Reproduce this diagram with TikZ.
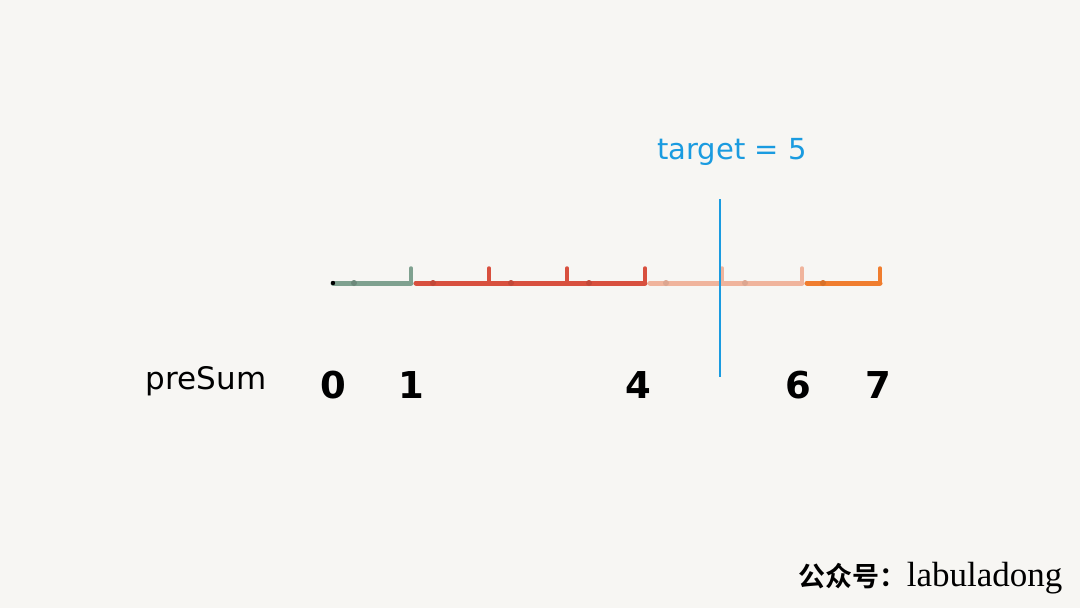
\documentclass[tikz,border=0pt]{standalone}
\usepackage{fontspec}
\newfontfamily\hand{DejaVu Sans}
\newfontfamily\handb{DejaVu Sans Bold}
\newfontfamily\cjk{Noto Sans CJK SC Bold}
\newfontfamily\wmserif{Liberation Serif}
\definecolor{bg}{HTML}{F7F6F3}
\definecolor{cgreen}{HTML}{7FA18F}
\definecolor{cred}{HTML}{D8503E}
\definecolor{csalmon}{HTML}{F0B49C}
\definecolor{corange}{HTML}{F07D2E}
\definecolor{cblue}{HTML}{1A9BE0}
\tikzset{
  seg/.style={line width=5pt, line cap=round},
  tickmark/.style={line width=3.5pt, line cap=round},
  bump/.style={circle, inner sep=0pt, minimum size=6pt},
  digit/.style={font=\handb\fontsize{37}{40}\selectfont, text=black, anchor=center},
}
\begin{document}
\begin{tikzpicture}[x=1pt,y=-1pt]
\fill[bg] (0,0) rectangle (1080,608);
\useasboundingbox (0,0) rectangle (1080,608);
% coordinates along the line
\coordinate (p0) at (333,283);
\coordinate (p1) at (411,283);
\coordinate (p2) at (489,283);
\coordinate (p3) at (567,283);
\coordinate (p4) at (645,283);
\coordinate (p5) at (722,283);
\coordinate (p6) at (802,283);
\coordinate (p7) at (880,283);
% segments
\draw[seg, cgreen] (p0) -- (p1);
\draw[seg, cred] ([xshift=5pt]p1) -- (p4);
\draw[seg, csalmon] ([xshift=5pt]p4) -- (p6);
\draw[seg, corange] ([xshift=5pt]p6) -- (p7);
% start dot
\fill[black] (p0) circle (2.2pt);
% ticks
\draw[tickmark, cgreen] (p1) -- ++(0,-15);
\draw[tickmark, cred] (p2) -- ++(0,-15);
\draw[tickmark, cred] (p3) -- ++(0,-15);
\draw[tickmark, cred] (p4) -- ++(0,-15);
\draw[tickmark, csalmon] (p5) -- ++(0,-15);
\draw[tickmark, csalmon] (p6) -- ++(0,-15);
\draw[tickmark, corange] (p7) -- ++(0,-15);
% bumps
\node[bump, fill=cgreen!85!black] at (354,283) {};
\node[bump, fill=cred!90!black] at (433,283) {};
\node[bump, fill=cred!90!black] at (511,283) {};
\node[bump, fill=cred!90!black] at (589,283) {};
\node[bump, fill=csalmon!92!black] at (666,283) {};
\node[bump, fill=csalmon!92!black] at (745,283) {};
\node[bump, fill=corange!90!black] at (823,283) {};
% target line
\coordinate (tTop) at (720,199);
\coordinate (tBot) at (720,377);
\draw[cblue, line width=2.5pt] (tTop) -- (tBot);
\node[font=\hand\fontsize{29}{32}\selectfont, text=cblue] (target) at (732,152) {target = 5};
% labels
\node[font=\hand\fontsize{31}{34}\selectfont, text=black] (presum) at (206,381) {preSum};
\node[digit] (d0) at (333,385) {0};
\node[digit] (d1) at (411,385) {1};
\node[digit] (d4) at (638,385) {4};
\node[digit] (d6) at (798,385) {6};
\node[digit] (d7) at (878,385) {7};
% watermark
\node[anchor=east, text=black] (wm) at (1066,578) {{\cjk\fontsize{27}{29}\selectfont 公众号：}{\wmserif\fontsize{35}{37}\selectfont labuladong}};
\end{tikzpicture}
\end{document}
